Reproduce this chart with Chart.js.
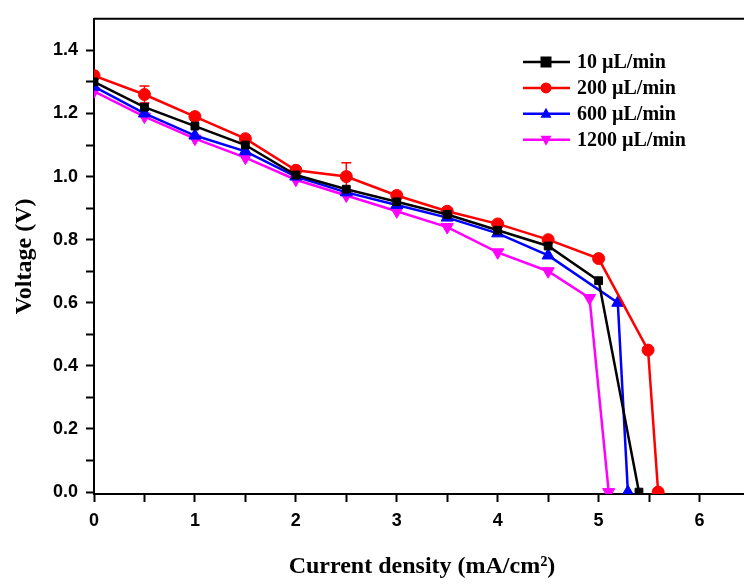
<!DOCTYPE html>
<html>
<head>
<meta charset="utf-8">
<script src="https://cdn.jsdelivr.net/npm/chart.js@4.4.0/dist/chart.umd.min.js"></script>
<style>
  html, body { margin: 0; padding: 0; background: #fff; overflow: hidden; }
  #wrap { width: 744px; height: 586px; overflow: hidden; }
</style>
</head>
<body>
<div id="wrap"><canvas id="ivChart" width="758" height="586"></canvas></div>
<script>
  'use strict';

  // series: current density (mA/cm2) vs voltage (V)
  var seriesNames = ['10 µL/min', '200 µL/min', '600 µL/min', '1200 µL/min'];
  var seriesColors = ['#000000', '#ff0000', '#0000ff', '#ff00ff'];

  var x10 = [0, 0.5, 1, 1.5, 2, 2.5, 3, 3.5, 4, 4.5, 5, 5.4];
  var v10 = [1.30, 1.22, 1.16, 1.10, 1.005, 0.96, 0.92, 0.88, 0.83, 0.78, 0.67, 0];

  var x200 = [0, 0.5, 1, 1.5, 2, 2.5, 3, 3.5, 4, 4.5, 5, 5.49, 5.59];
  var v200 = [1.32, 1.26, 1.19, 1.12, 1.02, 1.00, 0.94, 0.89, 0.85, 0.80, 0.74, 0.45, 0];
  var err200 = [0, 0.027, 0, 0, 0, 0.044, 0, 0, 0, 0, 0, 0, 0];

  var x600 = [0, 0.5, 1, 1.5, 2, 2.5, 3, 3.5, 4, 4.5, 5.19, 5.29];
  var v600 = [1.285, 1.20, 1.13, 1.08, 1.00, 0.95, 0.91, 0.87, 0.82, 0.75, 0.60, 0];

  var x1200 = [0, 0.5, 1, 1.5, 2, 2.5, 3, 3.5, 4, 4.5, 4.91, 5.1];
  var v1200 = [1.27, 1.19, 1.12, 1.06, 0.99, 0.94, 0.89, 0.84, 0.76, 0.70, 0.615, 0];

  var xTickValues = [0, 0.5, 1, 1.5, 2, 2.5, 3, 3.5, 4, 4.5, 5, 5.5, 6];
  var xTickLabels = ['0', '', '1', '', '2', '', '3', '', '4', '', '5', '', '6'];
  var yTickValues = [0, 0.1, 0.2, 0.3, 0.4, 0.5, 0.6, 0.7, 0.8, 0.9, 1.0, 1.1, 1.2, 1.3, 1.4];
  var yTickLabels = ['0.0', '', '0.2', '', '0.4', '', '0.6', '', '0.8', '', '1.0', '', '1.2', '', '1.4'];

  function pairs(xs, ys) {
    var out = [];
    for (var i = 0; i < xs.length; i++) {
      out.push({ x: xs[i], y: ys[i] });
    }
    return out;
  }

  function drawMarker(ctx, style, x, y, r, color) {
    ctx.save();
    ctx.fillStyle = color;
    ctx.beginPath();
    if (style === 'rect') {
      ctx.rect(x - r, y - r, 2 * r, 2 * r);
    } else if (style === 'circle') {
      ctx.arc(x, y, r, 0, Math.PI * 2);
    } else if (style === 'up') {
      ctx.moveTo(x, y - r * 1.1);
      ctx.lineTo(x + r, y + r * 0.7);
      ctx.lineTo(x - r, y + r * 0.7);
    } else {
      ctx.moveTo(x, y + r * 1.1);
      ctx.lineTo(x + r, y - r * 0.7);
      ctx.lineTo(x - r, y - r * 0.7);
    }
    ctx.closePath();
    ctx.fill();
    ctx.restore();
  }

  var legendStyles = ['rect', 'circle', 'up', 'down'];

  var frameAndLegend = {
    id: 'frameAndLegend',
    afterDraw: function (chart) {
      var ctx = chart.ctx;
      var area = chart.chartArea;
      ctx.save();
      // top frame line
      ctx.strokeStyle = '#000';
      ctx.lineWidth = 2;
      ctx.beginPath();
      ctx.moveTo(area.left, area.top);
      ctx.lineTo(area.right, area.top);
      ctx.stroke();

      // legend
      ctx.font = 'bold 20px "Liberation Serif", "Times New Roman", serif';
      ctx.textBaseline = 'middle';
      ctx.textAlign = 'left';
      for (var i = 0; i < seriesNames.length; i++) {
        var y = 62 + i * 25.9;
        ctx.strokeStyle = seriesColors[i];
        ctx.lineWidth = 2.5;
        ctx.beginPath();
        ctx.moveTo(523, y);
        ctx.lineTo(570, y);
        ctx.stroke();
        drawMarker(ctx, legendStyles[i], 546, y, 5.5, seriesColors[i]);
        ctx.fillStyle = '#000';
        ctx.fillText(seriesNames[i], 577, y + 1);
      }
      ctx.restore();
    }
  };

  var errorBars = {
    id: 'errorBars',
    beforeDatasetsDraw: function (chart) {
      var ctx = chart.ctx;
      var xs = chart.scales.x;
      var ys = chart.scales.y;
      ctx.save();
      ctx.strokeStyle = seriesColors[1];
      ctx.lineWidth = 1.5;
      for (var i = 0; i < err200.length; i++) {
        if (!err200[i]) continue;
        var px = xs.getPixelForValue(x200[i]);
        var top = ys.getPixelForValue(v200[i] + err200[i]);
        var bot = ys.getPixelForValue(v200[i] - err200[i]);
        ctx.beginPath();
        ctx.moveTo(px, top);
        ctx.lineTo(px, bot);
        ctx.moveTo(px - 5, top);
        ctx.lineTo(px + 5, top);
        ctx.moveTo(px - 5, bot);
        ctx.lineTo(px + 5, bot);
        ctx.stroke();
      }
      ctx.restore();
    }
  };

  function makeSet(label, data, color, style, radius, rotation) {
    return {
      label: label,
      data: data,
      borderColor: color,
      backgroundColor: color,
      borderWidth: 2.5,
      pointStyle: style,
      pointRadius: radius,
      pointRotation: rotation || 0,
      pointBorderWidth: 1,
      pointBackgroundColor: color,
      pointBorderColor: color,
      tension: 0,
      fill: false
    };
  }

  var tickFont = { family: '"Liberation Sans", Arial, sans-serif', size: 18, weight: 'bold' };
  var titleFont = { family: '"Liberation Serif", "Times New Roman", serif', size: 24, weight: 'bold' };

  var ctx = document.getElementById('ivChart').getContext('2d');
  var ivChart = new Chart(ctx, {
    type: 'line',
    data: {
      datasets: [
        makeSet(seriesNames[0], pairs(x10, v10), seriesColors[0], 'rect', 5.5),
        makeSet(seriesNames[1], pairs(x200, v200), seriesColors[1], 'circle', 6),
        makeSet(seriesNames[2], pairs(x600, v600), seriesColors[2], 'triangle', 7),
        makeSet(seriesNames[3], pairs(x1200, v1200), seriesColors[3], 'triangle', 7, 180)
      ]
    },
    options: {
      responsive: false,
      animation: false,
      layout: { padding: { top: 6, right: 0, left: 0, bottom: 0 } },
      plugins: {
        legend: { display: false },
        tooltip: { enabled: false }
      },
      scales: {
        x: {
          type: 'linear',
          min: 0,
          max: 6.5,
          afterBuildTicks: function (s) {
            s.ticks = xTickValues.map(function (v) { return { value: v }; });
          },
          afterFit: function (s) { s.height = 92; },
          ticks: {
            autoSkip: false,
            maxRotation: 0,
            color: '#000',
            font: tickFont,
            padding: 8,
            callback: function (value) {
              return xTickLabels[xTickValues.indexOf(value)];
            }
          },
          grid: { drawOnChartArea: false, tickLength: 8, tickWidth: 2, tickColor: '#000' },
          border: { color: '#000', width: 2 },
          title: {
            display: true,
            text: 'Current density (mA/cm²)',
            color: '#000',
            font: titleFont,
            padding: { top: 0, bottom: 5 }
          }
        },
        y: {
          type: 'linear',
          min: -0.006,
          max: 1.5,
          afterBuildTicks: function (s) {
            s.ticks = yTickValues.map(function (v) { return { value: v }; });
          },
          afterFit: function (s) { s.width = 94; },
          ticks: {
            autoSkip: false,
            color: '#000',
            font: tickFont,
            padding: 8,
            callback: function (value) {
              return yTickLabels[yTickValues.indexOf(value)];
            }
          },
          grid: { drawOnChartArea: false, tickLength: 8, tickWidth: 2, tickColor: '#000' },
          border: { color: '#000', width: 2 },
          title: {
            display: true,
            text: 'Voltage (V)',
            color: '#000',
            font: titleFont,
            padding: { top: 10, bottom: 0 }
          }
        }
      }
    },
    plugins: [errorBars, frameAndLegend]
  });
</script>
</body>
</html>
